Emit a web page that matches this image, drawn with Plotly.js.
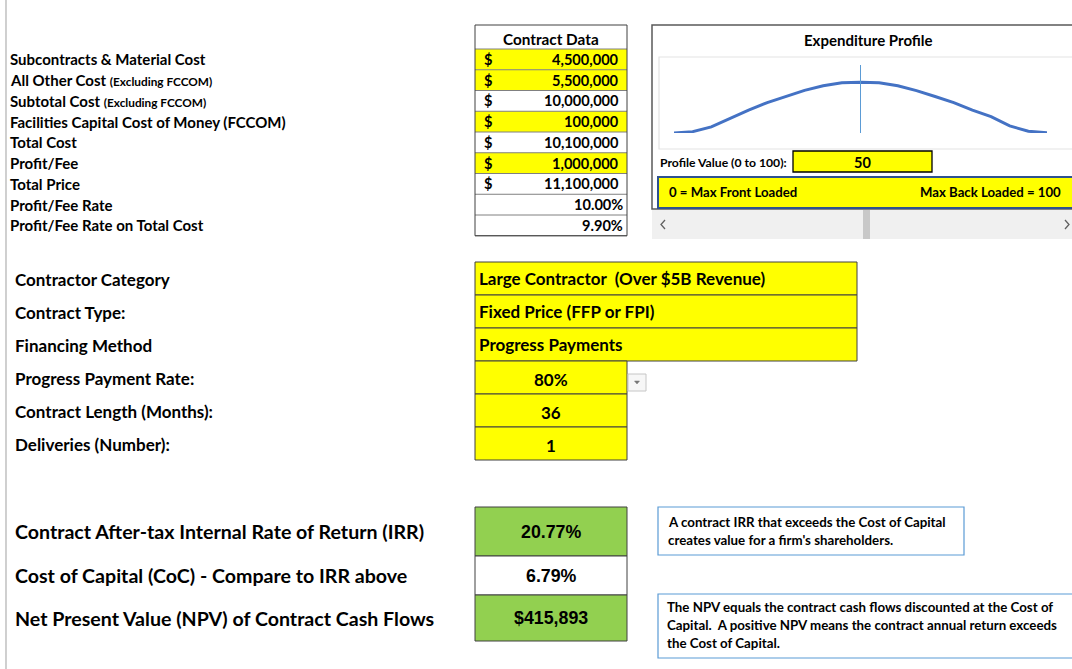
<!DOCTYPE html>
<html>
<head>
<meta charset="utf-8">
<script src="https://cdn.plot.ly/plotly-3.0.1.min.js"></script>
<style>html,body{margin:0;padding:0;background:#fff;}#chart{width:1072px;height:669px;}</style>
</head>
<body>
<div id="chart"></div>
<script>
// ---------- DATA ----------
const costLabels = [
  "Subcontracts & Material Cost",
  "All Other Cost",
  "Subtotal Cost",
  "Facilities Capital Cost of Money (FCCOM)",
  "Total Cost",
  "Profit/Fee",
  "Total Price"
];
const costNotes = ["", "(Excluding FCCOM)", "(Excluding FCCOM)", "", "", "", ""];
const costValues = [4500000, 5500000, 10000000, 100000, 10100000, 1000000, 11100000];
const inputRows = [0, 1, 3, 5];
const rateLabels = ["Profit/Fee Rate", "Profit/Fee Rate on Total Cost"];
const rateValues = [10.00, 9.90];

const settingLabels = ["Contractor Category", "Contract Type:", "Financing Method",
  "Progress Payment Rate:", "Contract Length (Months):", "Deliveries (Number):"];
const settingValues = ["Large Contractor\u00a0\u00a0(Over $5B Revenue)", "Fixed Price (FFP or FPI)",
  "Progress Payments", "80%", "36", "1"];

const resultLabels = ["Contract After-tax Internal Rate of Return (IRR)",
  "Cost of Capital (CoC) - Compare to IRR above",
  "Net Present Value (NPV) of Contract Cash Flows"];
const resultValues = ["20.77%", "6.79%", "$415,893"];

const note1 = ["A contract IRR that exceeds the Cost of Capital", "creates value for a firm's shareholders."];
const note2 = ["The NPV equals the contract cash flows discounted at the Cost of",
  "Capital.  A positive NPV means the contract annual return exceeds",
  "the Cost of Capital."];

const profileTitle = "Expenditure Profile";
const profileValue = 50;
const profileX = [0, 5, 10, 15, 20, 25, 30, 35, 40, 45, 50, 55, 60, 65, 70, 75, 80, 85, 90, 95, 100];
const profileY = [0.0, 0.08, 0.36, 0.87, 1.34, 1.79, 2.15, 2.51, 2.78, 2.96, 2.99,
                  2.96, 2.78, 2.49, 2.15, 1.79, 1.34, 0.96, 0.42, 0.10, 0.02];

// ---------- HELPERS ----------
const W = 1072, H = 669;
const X = p => p / W;
const Y = p => 1 - p / H;
const FONT = "Lato, 'Open Sans', sans-serif";
const shapes = [];
const ann = [];
function rect(x0, y0, x1, y1, fill, line, lw) {
  shapes.push({type: 'rect', xref: 'paper', yref: 'paper', layer: 'below',
    x0: X(x0), x1: X(x1), y0: Y(y1), y1: Y(y0),
    fillcolor: fill || 'rgba(0,0,0,0)',
    line: {color: line || 'rgba(0,0,0,0)', width: line ? (lw || 1) : 0}});
}
function hline(x0, x1, y, color, lw) {
  shapes.push({type: 'line', xref: 'paper', yref: 'paper', layer: 'below',
    x0: X(x0), x1: X(x1), y0: Y(y), y1: Y(y), line: {color: color, width: lw || 1}});
}
function vline(x, y0, y1, color, lw) {
  shapes.push({type: 'line', xref: 'paper', yref: 'paper', layer: 'below',
    x0: X(x), x1: X(x), y0: Y(y0), y1: Y(y1), line: {color: color, width: lw || 1}});
}
function text(t, x, y, size, anchor, opts) {
  opts = opts || {};
  ann.push({xref: 'paper', yref: 'paper', x: X(x), y: Y(y), text: t, showarrow: false,
    xanchor: anchor || 'left', yanchor: 'middle', align: anchor || 'left',
    font: {family: opts.family || FONT, size: size, color: opts.color || '#000', weight: 'bold'}});
}
const fmt = v => v.toLocaleString('en-US');

// left page edge line
vline(6, 0, 669, '#b0b0b0', 1.2);

// ---------- CONTRACT DATA TABLE ----------
const tL = 475, tR = 627, tTop = 25, hdrB = 49, rowH = 20.75;
rect(tL, tTop, tR, hdrB, '#ffffff', null);
text("Contract Data", 551, 39, 15.3, 'center');
costLabels.forEach((lab, i) => {
  const y0 = hdrB + i * rowH, y1 = y0 + rowH, yc = (y0 + y1) / 2;
  const fill = inputRows.includes(i) ? '#ffff00' : '#ffffff';
  rect(tL, y0, tR, y1, fill, null);
  let t = "<b>" + lab + "</b>";
  if (costNotes[i]) t += " <span style='font-size:11.8px'><b>" + costNotes[i] + "</b></span>";
  text(t, 8, yc, 15, 'left');
  text("$", 482, yc, 14.6, 'left');
  text(fmt(costValues[i]), 621, yc, 14.6, 'right');
});
rateLabels.forEach((lab, j) => {
  const i = costLabels.length + j;
  const y0 = hdrB + i * rowH, y1 = y0 + rowH, yc = (y0 + y1) / 2;
  text("<b>" + lab + "</b>", 8, yc, 15, 'left');
  text(rateValues[j].toFixed(2) + "%", 625, yc, 14.6, 'right');
});
const tBot = hdrB + (costLabels.length + rateLabels.length) * rowH;
for (let i = 0; i <= costLabels.length + rateLabels.length; i++) {
  hline(tL, tR, hdrB + i * rowH, '#808080', 1);
}
rect(tL, tTop, tR, tBot, null, '#404040', 1);

// ---------- EXPENDITURE PROFILE PANEL ----------
rect(652, 25, 1090, 209, '#ffffff', '#595959', 1.5);
rect(659, 57, 1090, 149, '#ffffff', '#e3e3e3', 1.2);
text(profileTitle, 868, 40, 15, 'center');
text("Profile Value (0 to 100):", 658, 162, 12.2, 'left');
rect(793, 151, 932, 172, '#ffff00', '#000000', 1.3);
text(String(profileValue), 862, 162, 14.5, 'center');
rect(658, 177, 1090, 208, '#ffff00', '#2f528f', 2);
text("0 = Max Front Loaded", 667, 192, 13.2, 'left');
text("Max Back Loaded = 100", 1063, 192, 13.2, 'right');
// scrollbar
rect(652, 210, 1090, 239, '#f0f0f0', null);
rect(863, 210, 870, 239, '#c8c8c8', null);
shapes.push({type: 'path', xref: 'paper', yref: 'paper', layer: 'above',
  path: `M ${X(665)} ${Y(220)} L ${X(661)} ${Y(224.5)} L ${X(665)} ${Y(229)}`,
  line: {color: '#606060', width: 1.3}});
shapes.push({type: 'path', xref: 'paper', yref: 'paper', layer: 'above',
  path: `M ${X(1065)} ${Y(220)} L ${X(1069)} ${Y(224.5)} L ${X(1065)} ${Y(229)}`,
  line: {color: '#606060', width: 1.3}});

// ---------- SETTINGS ----------
const sTop = 262, sH = 33;
settingLabels.forEach((lab, i) => {
  const y0 = sTop + i * sH, y1 = y0 + sH, yc = (y0 + y1) / 2;
  text("<b>" + lab + "</b>", 13, yc + 1, 17, 'left');
  if (i < 3) {
    rect(475, y0, 857, y1, '#ffff00', '#404040', 1);
    text(settingValues[i], 477, yc, 17, 'left');
  } else {
    rect(475, y0, 627, y1, '#ffff00', '#404040', 1);
    text(settingValues[i], 551, yc + 2, 17, 'center');
  }
});
// dropdown button
rect(628, 374, 646, 391, '#f7f7f7', '#c6c6c6', 1);
shapes.push({type: 'path', xref: 'paper', yref: 'paper', layer: 'above',
  path: `M ${X(634.5)} ${Y(381)} L ${X(639.5)} ${Y(381)} L ${X(637)} ${Y(384)} Z`,
  fillcolor: '#777777', line: {color: '#777777', width: 0.5}});

// ---------- RESULTS ----------
const rRows = [[507, 556, '#92d050'], [556, 595, '#ffffff'], [595, 641, '#92d050']];
resultLabels.forEach((lab, i) => {
  const [y0, y1, fill] = rRows[i];
  const yc = (y0 + y1) / 2;
  rect(475, y0, 627, y1, fill, '#404040', 1);
  text("<b>" + lab + "</b>", 13, yc, 19.6, 'left');
  text(resultValues[i], 551, yc, 17.8, 'center', {family: "'Liberation Sans', Arial, sans-serif"});
});

// notes
rect(658, 507, 964, 555, '#ffffff', '#5b9bd5', 1.2);
note1.forEach((l, k) => text(l, 666, 522 + k * 18, 13.3, 'left'));
rect(658, 594, 1090, 658, '#ffffff', '#5b9bd5', 1.2);
note2.forEach((l, k) => text(l, 665, 607 + k * 18, 13.3, 'left'));

// ---------- TRACES ----------
const traces = [
  {x: profileX, y: profileY, type: 'scatter', mode: 'lines',
   line: {color: '#4472c4', width: 3}, hoverinfo: 'skip'},
  {x: [profileValue, profileValue], y: [0, 4], type: 'scatter', mode: 'lines',
   line: {color: '#5b9bd5', width: 1}, hoverinfo: 'skip'}
];

const layout = {
  width: W, height: H,
  margin: {l: 0, r: 0, t: 0, b: 0, pad: 0},
  paper_bgcolor: '#ffffff', plot_bgcolor: 'rgba(0,0,0,0)',
  showlegend: false,
  xaxis: {domain: [X(674), X(1047)], range: [0, 100], showgrid: false, zeroline: false,
          showticklabels: false, showline: false, ticks: '', fixedrange: true},
  yaxis: {domain: [Y(133), Y(65)], range: [0, 4], tickvals: [0, 4], showgrid: true,
          gridcolor: '#d9d9d9', gridwidth: 1.2, zeroline: false, showticklabels: false,
          showline: false, ticks: '', fixedrange: true},
  shapes: shapes,
  annotations: ann,
  font: {family: FONT}
};

Plotly.newPlot('chart', traces, layout, {displayModeBar: false, staticPlot: true});
</script>
</body>
</html>
